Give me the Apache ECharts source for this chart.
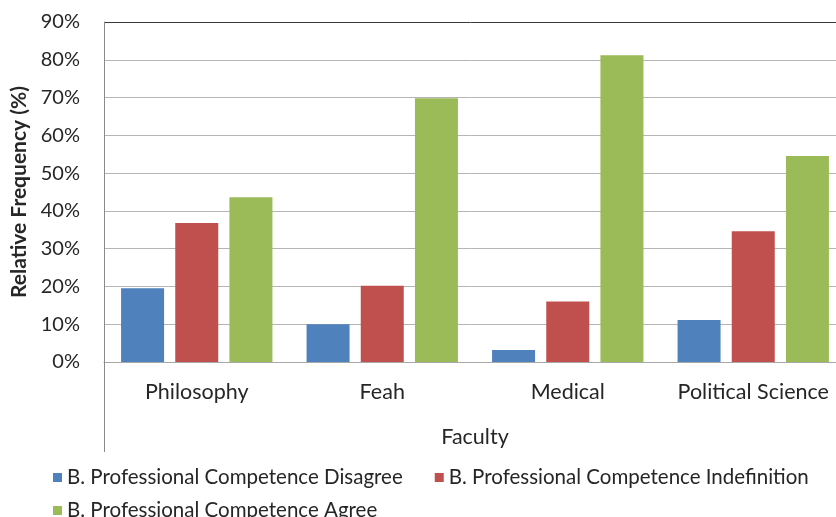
<!DOCTYPE html>
<html>
<head>
<meta charset="utf-8">
<script src="https://cdn.jsdelivr.net/npm/echarts@6/dist/echarts.min.js"></script>
<style>
  html, body { margin: 0; padding: 0; background: #ffffff; }
  #chart { width: 836px; height: 517px; }
</style>
</head>
<body>
<div id="chart"></div>
<script>
// Faculties on the category axis
const faculties = ['Philosophy', 'Feah', 'Medical', 'Political Science'];

// Relative frequency (%) of each answer per faculty
const disagree = [19.5, 10.0, 3.2, 11.1];
const indefinition = [36.8, 20.2, 16.0, 34.6];
const agree = [43.6, 69.8, 81.2, 54.5];

const seriesNames = [
  'B. Professional Competence Disagree',
  'B. Professional Competence Indefinition',
  'B. Professional Competence Agree'
];
const seriesColors = ['#4f81bd', '#c0504d', '#9bbb59'];

// Value axis ticks
const yTicks = { min: 0, max: 90, step: 10 };

const FONT = 'Lato';
const TEXT = '#262626';

const chart = echarts.init(document.getElementById('chart'), null, { renderer: 'canvas' });

const gridColors = [];
for (let v = yTicks.min; v <= yTicks.max; v += yTicks.step) {
  gridColors.push(v === yTicks.max ? '#3a3a3a' : '#b5b5b5');
}

const makeBar = (name, values, color) => ({
  name: name,
  type: 'bar',
  xAxisIndex: 0,
  data: values,
  barWidth: 43,
  barGap: '26%',
  itemStyle: { color: color },
  emphasis: { disabled: true }
});

const legendText = { fontFamily: FONT, fontSize: 20.5, color: TEXT };

chart.setOption({
  animation: false,
  backgroundColor: '#ffffff',
  textStyle: { fontFamily: FONT, color: TEXT },
  // The plot area runs past the right edge of the canvas
  grid: { left: 104, top: 22, width: 742, height: 340, outerBoundsMode: 'none', containLabel: false },
  legend: [
    {
      data: [seriesNames[0], seriesNames[1]],
      left: 48, top: 462,
      icon: 'rect', itemWidth: 9, itemHeight: 9, itemGap: 32,
      textStyle: legendText
    },
    {
      data: [seriesNames[2]],
      left: 48, top: 495,
      icon: 'rect', itemWidth: 9, itemHeight: 9,
      textStyle: legendText
    }
  ],
  xAxis: [
    {
      type: 'category',
      data: faculties,
      axisLine: { show: true, lineStyle: { color: '#a8a8a8', width: 1 } },
      axisTick: { show: false },
      axisLabel: { interval: 0, fontFamily: FONT, fontSize: 21.5, color: TEXT, margin: 19 },
      splitLine: { show: false }
    },
    {
      // Outer level of the category axis: the faculty group label and its separators
      type: 'category',
      data: ['Faculty'],
      position: 'bottom',
      offset: 90,
      axisLine: { show: false },
      axisTick: { show: true, inside: true, length: 90, lineStyle: { color: '#8a8a8a', width: 1 } },
      axisLabel: { interval: 0, inside: true, margin: 4, fontFamily: FONT, fontSize: 21.5, color: TEXT },
      splitLine: { show: false }
    }
  ],
  yAxis: {
    type: 'value',
    min: yTicks.min,
    max: yTicks.max,
    interval: yTicks.step,
    name: 'Relative Frequency (%)',
    nameLocation: 'middle',
    nameGap: 69,
    nameTextStyle: { fontFamily: FONT, fontSize: 21, fontWeight: 'bold', color: TEXT },
    axisLine: { show: true, lineStyle: { color: '#8a8a8a', width: 1 } },
    axisTick: { show: false },
    axisLabel: { formatter: '{value}%', fontFamily: FONT, fontSize: 20, color: TEXT, margin: 24 },
    splitLine: { show: true, lineStyle: { color: gridColors, width: 1 } }
  },
  series: [
    makeBar(seriesNames[0], disagree, seriesColors[0]),
    makeBar(seriesNames[1], indefinition, seriesColors[1]),
    makeBar(seriesNames[2], agree, seriesColors[2])
  ]
});
</script>
</body>
</html>
